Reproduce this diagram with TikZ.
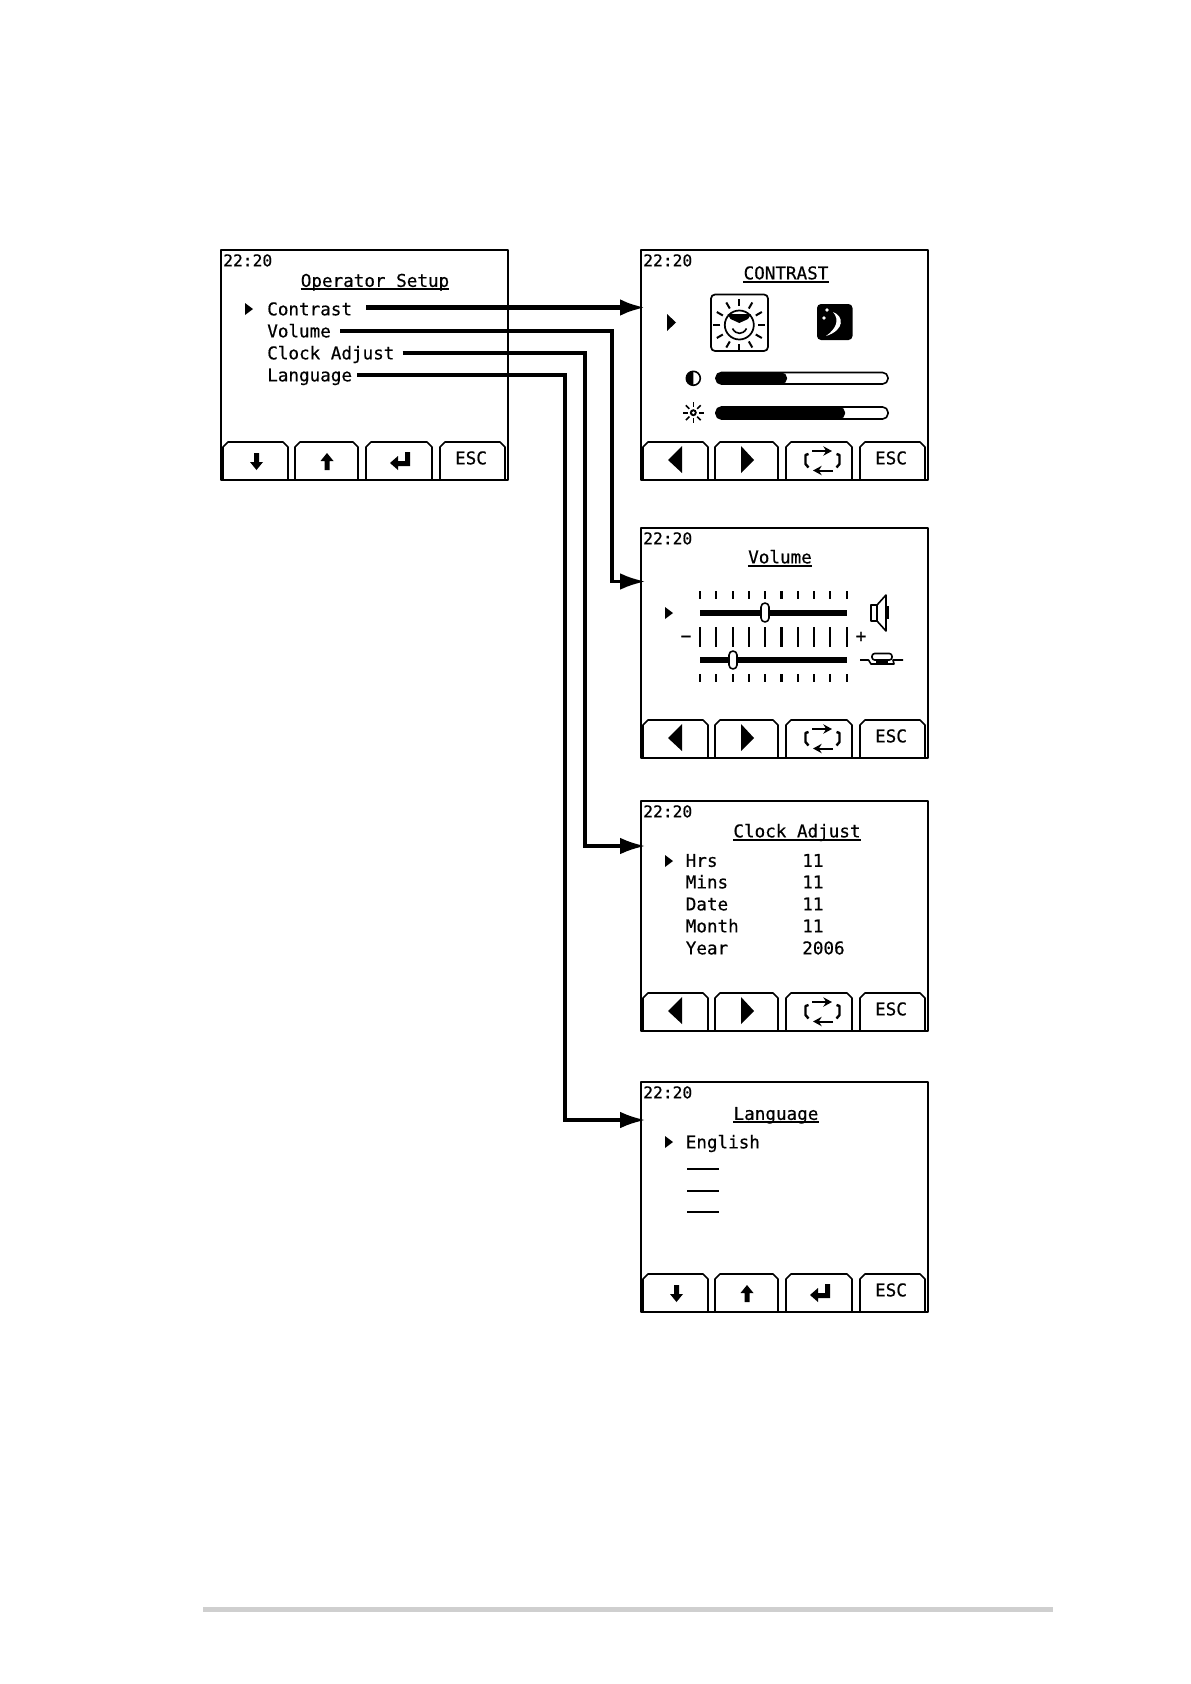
\documentclass[tikz,border=0pt]{standalone}
\usepackage{fontspec}
\setmainfont[FakeBold=0.5]{DejaVu Sans Mono}
\usetikzlibrary{arrows.meta}
\begin{document}
\begin{tikzpicture}[x=.75pt,y=-.75pt,>=Stealth,line join=round,
    screenframe/.style={draw,line width=1.5pt,anchor=north west,inner sep=0pt,outer sep=0pt,minimum width=215.5pt,minimum height=173pt},
    lcdtext/.style={inner sep=0pt,text height=9.5pt,text depth=0pt,font=\fontsize{13.2}{15}\selectfont},
    rowtext/.style={lcdtext,anchor=west},
    timetext/.style={rowtext,font=\fontsize{12.2}{14}\selectfont},
    screentitle/.style={lcdtext,text depth=1.5pt,append after command={(\tikzlastnode.south west) edge[line width=1.5pt] (\tikzlastnode.south east)}},
    link/.style={line width=2.45pt,line join=miter,shorten >=-3.5pt,-{Latex[length=19pt,width=12.5pt]}},
    keycap/.style={line width=1.2pt},
    tick/.style={line width=1.6pt},
    screen/.pic={
        \node[screenframe] (frame) at (.7,.7) {};
        \node[timetext] (time) at (3,11) {22:20};
        \foreach \xa/\xb in {3/68,75/138,146/212,220/285}
            \draw[keycap] (\xa,230)--(\xa,198)--(\xa+5,193)--(\xb-5,193)--(\xb,198)--(\xb,230);
        \node[lcdtext] (esc) at (251,209) {ESC};
    },
    stepkeys/.pic={
        \fill (34,204)--(39,204)--(39,213)--(43,213)--(36.5,221)--(30,213)--(34,213)--cycle;
        \fill (104.5,221)--(109.5,221)--(109.5,212)--(113.5,212)--(107,204)--(100.5,212)--(104.5,212)--cycle;
        \fill (185,203)--(190,203)--(190,217)--(178,217)--(178,221)--(170,214)--(178,207)--(178,212)--(185,212)--cycle;
    },
    cyclekeys/.pic={
        \fill (42,197)--(42,224)--(28,211)--cycle;
        \fill (101,197)--(101,224)--(114,211)--cycle;
        \draw[line width=1.5pt,-{Stealth[length=6.5pt,width=7pt]}] (172,202)--(192,202);
        \draw[line width=1.5pt,-{Stealth[length=6.5pt,width=7pt]}] (193,221.5)--(173,221.5);
        \draw[line width=1.8pt] (168.5,205)--(165.5,206)--(165.5,215)--(168.5,218.5);
        \draw[line width=1.8pt] (196.5,205)--(199.5,206)--(199.5,215)--(196.5,218.5);
    }]
    \useasboundingbox (0,0) rectangle (1190,1684);

    \pic (setup) at (220,249) {screen};
    \pic at (220,249) {stepkeys};
    \node[screentitle] (setuptitle) at (375,281.5) {Operator Setup};
    \fill (245,303)--(253,309)--(245,315)--cycle;
    \node[rowtext] (contrastitem) at (267,309) {Contrast};
    \node[rowtext] (volumeitem) at (267,331) {Volume};
    \node[rowtext] (clockitem) at (267,353) {Clock Adjust};
    \node[rowtext] (languageitem) at (267,375) {Language};

    \pic (contrast) at (640,249) {screen};
    \pic at (640,249) {cyclekeys};
    \node[screentitle] (contrasttitle) at (786,274) {CONTRAST};
    \fill (667,314)--(676,322.5)--(667,331)--cycle;
    \draw[line width=1.3pt,rounded corners=3pt] (711,294.5) rectangle (768,351);
    \draw[line width=1.3pt] (739.3,325) circle (14.5);
    \foreach \a in {0,30,...,330}
        \draw[line width=1.5pt] (739.3,325)++(\a:19)--++(\a:7);
    \fill (727.5,314)--(751,314)--(748,319)--(739.3,323)--(730.5,319)--cycle;
    \draw[line width=1.2pt] (732.5,328.5) .. controls (736,335) and (743,335) .. (746.5,328.5);
    \fill[rounded corners=3pt] (817,304) rectangle (852.5,340);
    \fill[white] (833,312) .. controls (844,316) and (845,330) .. (826,336) .. controls (836,329) and (840,320) .. (833,312) -- cycle;
    \fill[white] (827,310) circle (1.8) (824,318) circle (1.8);
    \draw[line width=1.2pt] (693.3,378.3) circle (7);
    \fill (693.3,371.3) arc[start angle=-90,delta angle=-180,radius=7] -- cycle;
    \draw[line width=1.2pt,rounded corners=4pt] (716,372.5) rectangle (888,384);
    \fill[rounded corners=4pt] (716,372.5) -- (787,372.5) -- (787,384) -- (716,384) -- cycle;
    \fill (693.3,412.7) circle (3.5);
    \fill[white] (693.3,412.7) circle (1.5);
    \foreach \a in {0,45,...,315}
        \draw[line width=1.2pt] (693.3,412.7)++(\a:5.5)--++(\a:5);
    \draw[line width=1.2pt,rounded corners=4pt] (716,407) rectangle (888,419);
    \fill[rounded corners=4pt] (716,407) -- (845,407) -- (845,419) -- (716,419) -- cycle;

    \pic (volume) at (640,527) {screen};
    \pic at (640,527) {cyclekeys};
    \node[screentitle] (volumetitle) at (780,558) {Volume};
    \fill (665,607)--(673,613)--(665,619)--cycle;
    \foreach \i in {0,...,9} {
        \draw[tick] (700+16.3*\i,591)--(700+16.3*\i,599);
        \draw[tick] (700+16.3*\i,627)--(700+16.3*\i,647);
        \draw[tick] (700+16.3*\i,674)--(700+16.3*\i,682);
    }
    \draw[line width=4pt] (700,613)--(847,613);
    \draw[line width=4pt] (700,660)--(847,660);
    \draw[fill=white,line width=1.2pt,rounded corners=3pt] (761,603) rectangle (769,622);
    \draw[fill=white,line width=1.2pt,rounded corners=3pt] (729,651) rectangle (737,669);
    \node[lcdtext,text height=0pt] (minussign) at (686,642) {−};
    \node[lcdtext,text height=0pt] (plussign) at (861,642) {+};
    \draw[line width=1.2pt] (871,605) rectangle (877,621);
    \draw[line width=1.2pt] (877,605)--(886,595)--(886,631)--(877,621);
    \draw[line width=2.2pt] (887.5,606)--(887.5,619);
    \draw[line width=1.2pt,rounded corners=2pt] (872,660)--(872,653.5)--(892,653.5)--(892,660)--cycle;
    \draw[line width=1.2pt] (860,660)--(868.5,660)--(871,664)--(894,664)--(893,660)--(903,660);
    \fill (876,660)--(887.5,660)--(887.5,664)--(876,664)--cycle;

    \pic (clock) at (640,800) {screen};
    \pic at (640,800) {cyclekeys};
    \node[screentitle] (clocktitle) at (797,832) {Clock Adjust};
    \fill (665,855)--(673,861)--(665,867)--cycle;
    \node[rowtext] (hrsname) at (685.5,860.5) {Hrs};
    \node[rowtext] (hrsvalue) at (802,860.5) {11};
    \node[rowtext] (minsname) at (685.5,882) {Mins};
    \node[rowtext] (minsvalue) at (802,882) {11};
    \node[rowtext] (datename) at (685.5,904) {Date};
    \node[rowtext] (datevalue) at (802,904) {11};
    \node[rowtext] (monthname) at (685.5,926) {Month};
    \node[rowtext] (monthvalue) at (802,926) {11};
    \node[rowtext] (yearname) at (685.5,948) {Year};
    \node[rowtext] (yearvalue) at (802,948) {2006};

    \pic (language) at (640,1081) {screen};
    \pic at (640,1081) {stepkeys};
    \node[screentitle] (languagetitle) at (776,1114.5) {Language};
    \fill (665,1136)--(673,1142)--(665,1148)--cycle;
    \node[rowtext] (englishname) at (685.5,1142) {English};
    \foreach \y in {1169,1191,1212}
        \draw[line width=1.2pt] (687,\y)--(719,\y);

    \coordinate (contrastvia) at (612,307.5);
    \coordinate (volumevia) at (612,581.5);
    \coordinate (clockvia) at (585,846);
    \coordinate (languagevia) at (565,1120);
    \draw[link,line width=3.4pt,shorten <=14*.75pt] (contrastitem.east |- contrastvia)--(contrastvia -| contrastframe.west);
    \draw[link,shorten <=9*.75pt] (volumeitem.east)-|(volumevia)--(volumevia -| volumeframe.west);
    \draw[link,shorten <=8*.75pt] (clockitem.east)-|(clockvia)--(clockvia -| clockframe.west);
    \draw[link,shorten <=5*.75pt] (languageitem.east)-|(languagevia)--(languagevia -| languageframe.west);

    \fill[black!19] (203,1607) rectangle (1053,1612);
\end{tikzpicture}
\end{document}
